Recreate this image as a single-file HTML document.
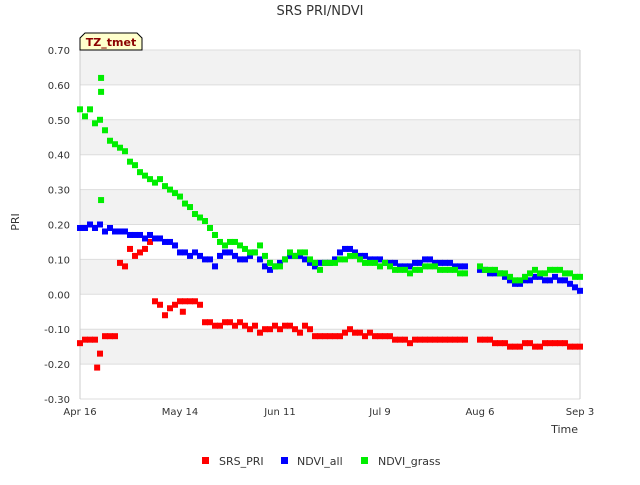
<!DOCTYPE html>
<html><head><meta charset="utf-8">
<style>
body{margin:0;background:#fff;font-family:"Liberation Sans","DejaVu Sans",sans-serif;}
svg text{font-family:"DejaVu Sans","Liberation Sans",sans-serif;}
</style></head>
<body>
<svg id="chart" width="640" height="480" xmlns="http://www.w3.org/2000/svg">
<text x="320" y="15" text-anchor="middle" font-size="13" fill="#333">SRS PRI/NDVI</text>
<g id="bands"></g>
<g id="grid"></g>
<g id="yticks"></g>
<g id="xticks"></g>
<text x="19" y="222" transform="rotate(-90 19 222)" text-anchor="middle" font-size="11" fill="#333">PRI</text>
<text x="578" y="433" text-anchor="end" font-size="11" fill="#333">Time</text>
<g id="marks"></g>
<g>
<path d="M80,50 L80,38 L85,33 L137,33 L142,38 L142,50 Z" fill="#ffffcc" stroke="#000" stroke-width="1"/>
<text x="111" y="46" text-anchor="middle" font-size="11" font-weight="bold" fill="#8b0000">TZ_tmet</text>
</g>
<g>
<rect x="202" y="457" width="7" height="7" fill="#ff0000"/>
<text x="219" y="465" font-size="11" fill="#333">SRS_PRI</text>
<rect x="281" y="457" width="7" height="7" fill="#0000ff"/>
<text x="297" y="465" font-size="11" fill="#333">NDVI_all</text>
<rect x="361" y="457" width="7" height="7" fill="#00ee00"/>
<text x="378" y="465" font-size="11" fill="#333">NDVI_grass</text>
</g>
</svg>
<script>
const xTickLabels=["Apr 16","May 14","Jun 11","Jul 9","Aug 6","Sep 3"];
const xTickDays=[0,28,56,84,112,140];
const yTickValues=[0.7,0.6,0.5,0.4,0.3,0.2,0.1,0,-0.1,-0.2,-0.3];
const yTickLabels=["0.70","0.60","0.50","0.40","0.30","0.20","0.10","0.00","-0.10","-0.20","-0.30"];
const dayStep=1.4;
const green=[0.53,0.51,0.53,0.49,0.50,0.47,0.44,0.43,0.42,0.41,0.38,0.37,0.35,0.34,0.33,0.32,0.33,0.31,0.30,0.29,0.28,0.26,0.25,0.23,0.22,0.21,0.19,0.17,0.15,0.14,0.15,0.15,0.14,0.13,0.12,0.12,0.14,0.11,0.09,0.08,0.08,0.10,0.12,0.11,0.12,0.12,0.10,0.09,0.07,0.09,0.09,0.09,0.10,0.10,0.11,0.11,0.10,0.09,0.09,0.09,0.08,0.09,0.08,0.07,0.07,0.07,0.06,0.07,0.07,0.08,0.08,0.08,0.07,0.07,0.07,0.07,0.06,0.06,null,null,0.08,0.07,0.07,0.07,0.06,0.06,0.05,0.04,0.04,0.05,0.06,0.07,0.06,0.06,0.07,0.07,0.07,0.06,0.06,0.05,0.05];
const blue=[0.19,0.19,0.20,0.19,0.20,0.18,0.19,0.18,0.18,0.18,0.17,0.17,0.17,0.16,0.17,0.16,0.16,0.15,0.15,0.14,0.12,0.12,0.11,0.12,0.11,0.10,0.10,0.08,0.11,0.12,0.12,0.11,0.10,0.10,0.11,0.12,0.10,0.08,0.07,0.08,0.09,0.10,0.11,0.11,0.11,0.10,0.09,0.08,0.09,0.09,0.09,0.10,0.12,0.13,0.13,0.12,0.11,0.11,0.10,0.10,0.10,0.09,0.09,0.09,0.08,0.08,0.08,0.09,0.09,0.10,0.10,0.09,0.09,0.09,0.09,0.08,0.08,0.08,null,null,0.07,0.07,0.06,0.06,0.06,0.05,0.04,0.03,0.03,0.04,0.04,0.05,0.05,0.04,0.04,0.05,0.04,0.04,0.03,0.02,0.01];
const red=[-0.14,-0.13,-0.13,-0.13,-0.17,-0.12,-0.12,-0.12,0.09,0.08,0.13,0.11,0.12,0.13,0.15,-0.02,-0.03,-0.06,-0.04,-0.03,-0.02,-0.02,-0.02,-0.02,-0.03,-0.08,-0.08,-0.09,-0.09,-0.08,-0.08,-0.09,-0.08,-0.09,-0.10,-0.09,-0.11,-0.10,-0.10,-0.09,-0.10,-0.09,-0.09,-0.10,-0.11,-0.09,-0.10,-0.12,-0.12,-0.12,-0.12,-0.12,-0.12,-0.11,-0.10,-0.11,-0.11,-0.12,-0.11,-0.12,-0.12,-0.12,-0.12,-0.13,-0.13,-0.13,-0.14,-0.13,-0.13,-0.13,-0.13,-0.13,-0.13,-0.13,-0.13,-0.13,-0.13,-0.13,null,null,-0.13,-0.13,-0.13,-0.14,-0.14,-0.14,-0.15,-0.15,-0.15,-0.14,-0.14,-0.15,-0.15,-0.14,-0.14,-0.14,-0.14,-0.14,-0.15,-0.15,-0.15];
const outlierDays=[5.9,5.9,5.9,28.8,4.8];
const outlierVals=[0.62,0.58,0.27,-0.05,-0.21];
const outlierSeries=["green","green","green","red","red"];

const NS="http://www.w3.org/2000/svg";
const X0=80,X1=580,Y0=399,Y1=50,DMAX=140,VMIN=-0.3,VMAX=0.7;
function xs(d){return X0+(d/DMAX)*(X1-X0);}
function ys(v){return Y0-(v-VMIN)/(VMAX-VMIN)*(Y0-Y1);}
function mk(tag,attrs,parent){const e=document.createElementNS(NS,tag);for(const k in attrs)e.setAttribute(k,attrs[k]);parent.appendChild(e);return e;}
const bands=document.getElementById('bands'),grid=document.getElementById('grid'),yt=document.getElementById('yticks'),xt=document.getElementById('xticks'),marks=document.getElementById('marks');
mk('rect',{x:X0,y:Y1,width:X1-X0,height:Y0-Y1,fill:'#fff'},bands);
for(let i=0;i<yTickValues.length-1;i++){
  if(i%2===0){const r=mk('rect',{x:X0,y:ys(yTickValues[i]),width:X1-X0,height:ys(yTickValues[i+1])-ys(yTickValues[i]),fill:'#f2f2f2'},bands);
  
  }
}
yTickValues.forEach((v,i)=>{
  const l=mk('line',{x1:X0,x2:X1,y1:ys(v),y2:ys(v),stroke:'#dddddd','stroke-width':1},grid);
  
  
  const t=mk('text',{x:X0-10,y:ys(v)+4,'text-anchor':'end','font-size':10,fill:'#333'},yt);
  t.textContent=yTickLabels[i];
  
  
});
mk('line',{x1:X0,x2:X0,y1:Y1,y2:Y0,stroke:'#ccc'},grid);
mk('line',{x1:X1,x2:X1,y1:Y1,y2:Y0,stroke:'#ccc'},grid);
xTickDays.forEach((d,i)=>{
  const t=mk('text',{x:xs(d),y:Y0+16,'text-anchor':'middle','font-size':10,fill:'#333'},xt);
  t.textContent=xTickLabels[i];
  
  
});
const colors={red:'#ff0000',blue:'#0000ff',green:'#00ee00'};
function drawSeries(vals,name){
  vals.forEach((v,i)=>{
    if(v===null)return;
    const r=mk('rect',{x:xs(i*dayStep)-3,y:ys(v)-3,width:6,height:6,fill:colors[name]},marks);
    
    
  });
}
drawSeries(red,'red');drawSeries(blue,'blue');drawSeries(green,'green');
outlierDays.forEach((d,i)=>{
  const r=mk('rect',{x:xs(d)-3,y:ys(outlierVals[i])-3,width:6,height:6,fill:colors[outlierSeries[i]]},marks);
  
  
});
</script>
</body></html>
